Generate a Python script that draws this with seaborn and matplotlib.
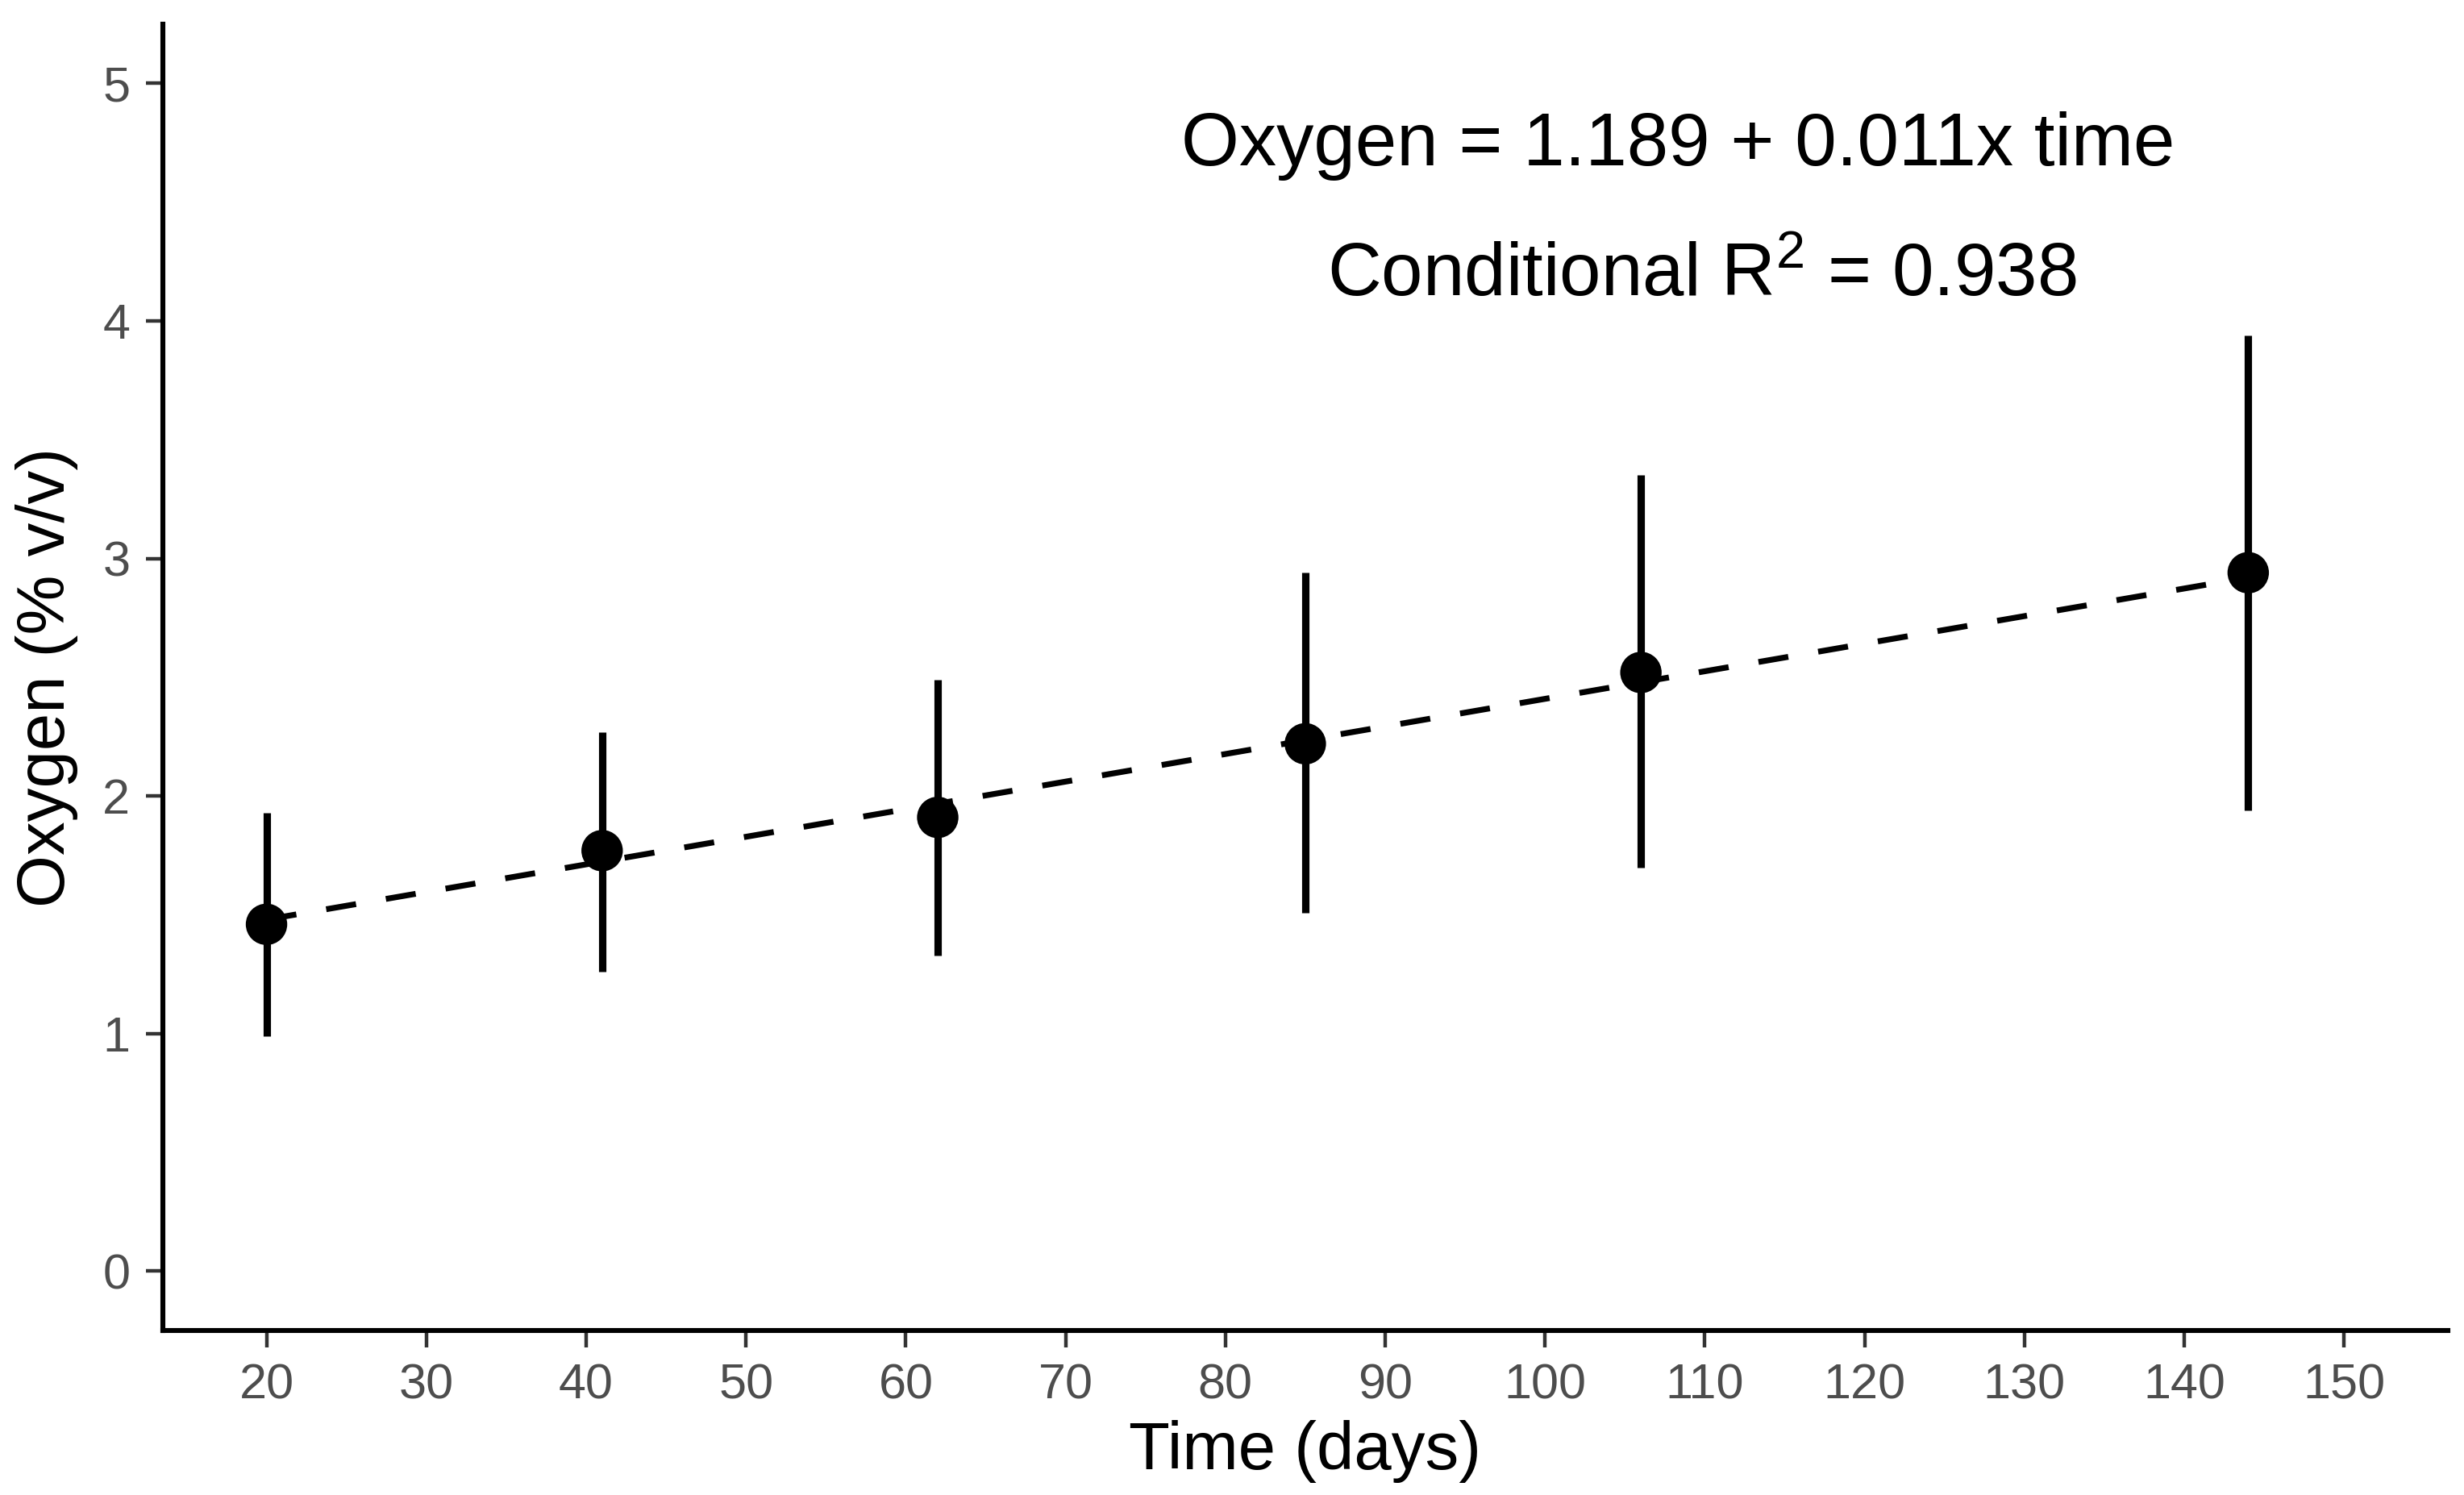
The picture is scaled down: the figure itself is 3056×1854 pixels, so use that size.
import matplotlib
matplotlib.use("Agg")
import matplotlib.pyplot as plt
import seaborn as sns
import pandas as pd

# ---- data ----
time_days = [20, 41, 62, 85, 106, 144]
oxygen_mean = [1.46, 1.77, 1.91, 2.22, 2.52, 2.94]
oxygen_low = [0.99, 1.26, 1.33, 1.51, 1.70, 1.94]
oxygen_high = [1.93, 2.27, 2.49, 2.94, 3.35, 3.94]

fit_time = [20, 144]
fit_oxygen = [1.48, 2.92]

x_ticks = [20, 30, 40, 50, 60, 70, 80, 90, 100, 110, 120, 130, 140, 150]
y_ticks = [0, 1, 2, 3, 4, 5]

equation_text = "Oxygen = 1.189 + 0.011x time"
r2_text = "Conditional R$^2$ = 0.938"

df = pd.DataFrame({"time": time_days, "oxygen": oxygen_mean,
                   "low": oxygen_low, "high": oxygen_high})
fit_df = pd.DataFrame({"time": fit_time, "oxygen": fit_oxygen})

sns.set_theme(style="ticks")
plt.rcParams["font.family"] = ["Liberation Sans", "DejaVu Sans"]
plt.rcParams["mathtext.fontset"] = "custom"
plt.rcParams["mathtext.rm"] = "Liberation Sans"
plt.rcParams["mathtext.it"] = "Liberation Sans:italic"
plt.rcParams["mathtext.bf"] = "Liberation Sans:bold"

fig = plt.figure(figsize=(15.28, 9.27), dpi=200)
ax = fig.add_axes([0.066, 0.110, 0.9275, 0.874])

# error bars
ax.vlines(df["time"], df["low"], df["high"], color="black", linewidth=3.3, zorder=2)

# fitted dashed line
sns.lineplot(data=fit_df, x="time", y="oxygen", ax=ax, color="black",
             linewidth=2.6, dashes=False, zorder=3)
ax.lines[-1].set_dashes((5.2, 5.2))

# points
sns.scatterplot(data=df, x="time", y="oxygen", ax=ax, color="black",
                s=18.5 ** 2, edgecolor="none", zorder=4)

ax.set_xlim(13.5, 156.5)
ax.set_ylim(-0.25, 5.25)
ax.set_xticks(x_ticks)
ax.set_yticks(y_ticks)

for side in ["top", "right"]:
    ax.spines[side].set_visible(False)
for side in ["left", "bottom"]:
    ax.spines[side].set_linewidth(2.2)
    ax.spines[side].set_color("black")

ax.tick_params(axis="both", which="major", length=7.5, width=1.6,
               color="#333333", labelsize=22, labelcolor="#4D4D4D", pad=7)

ax.set_xlabel("Time (days)", fontsize=30, color="black", labelpad=5)
ax.set_ylabel("Oxygen (% v/v)", fontsize=30, color="black", labelpad=11)

ax.text(108.3, 4.735, equation_text, fontsize=33.3, ha="center", va="center", color="black")
ax.text(109.8, 4.19, r2_text, fontsize=33.3, ha="center", va="center", color="black")

ax.set_facecolor("white")
fig.patch.set_facecolor("white")
fig.savefig("out.png", dpi=200, facecolor="white")
